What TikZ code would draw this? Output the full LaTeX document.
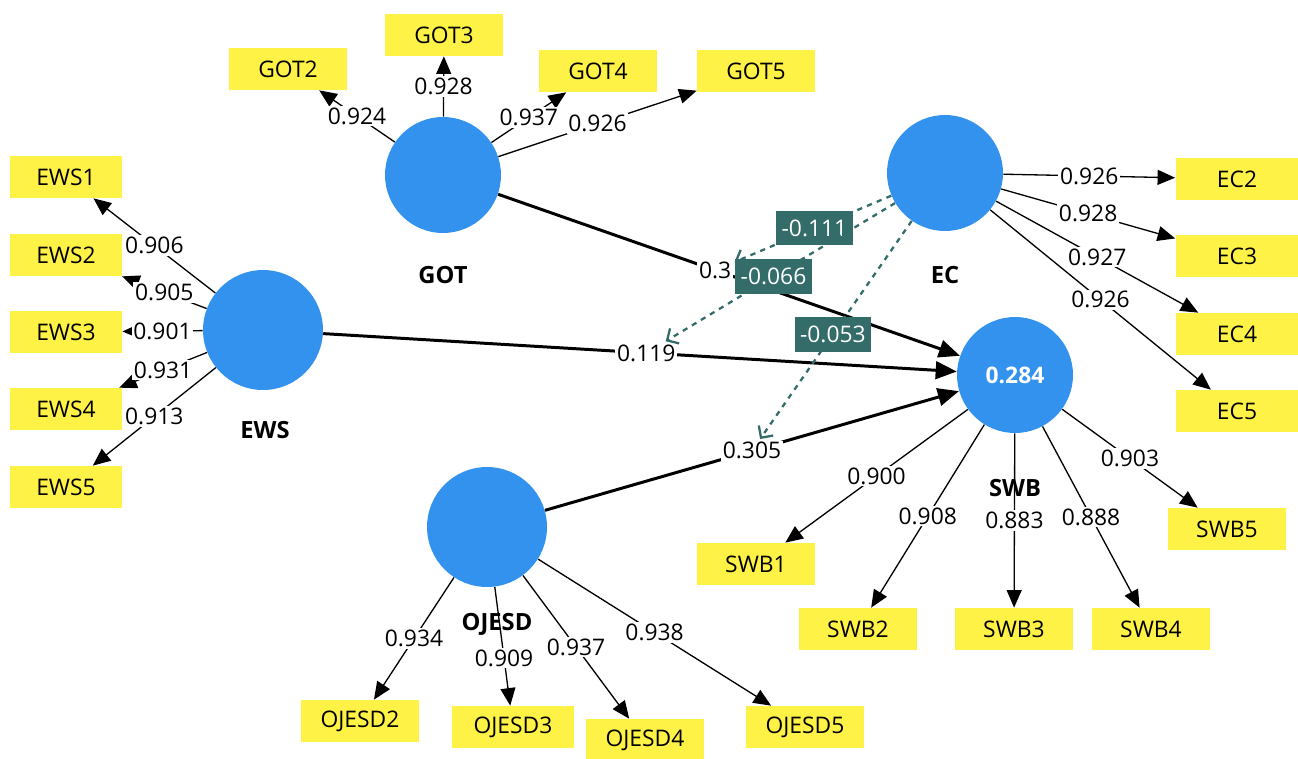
\documentclass[tikz,border=0pt]{standalone}
\usepackage{fontspec}
\setmainfont{Open Sans}
\usetikzlibrary{arrows.meta}
\definecolor{indyellow}{RGB}{255,242,70}
\definecolor{latblue}{RGB}{50,146,238}
\definecolor{modteal}{RGB}{52,108,106}

\begin{document}
\begin{tikzpicture}[x=0.02cm, y=-0.02cm, line join=round, font=\fontsize{13}{15}\selectfont,
        >={Triangle[length=10pt,width=8.5pt]}]
    \tikzset{lat style/.style={circle, fill=latblue, minimum size=2.32cm, inner sep=0pt}}
    \tikzset{ind style/.style={fill=indyellow, minimum width=2.36cm, minimum height=0.84cm, inner sep=0pt}}
    \tikzset{name style/.style={font=\fontsize{13.5}{15}\selectfont\bfseries}}
    \tikzset{load style/.style={fill=white, inner sep=1pt}}
    \tikzset{path style/.style={line width=1.7pt, -{Triangle[length=12pt,width=10pt]}}}
    \tikzset{mod line/.style={modteal, dashed, line width=1.3pt, -{Straight Barb[length=5pt,width=10pt]}}}
    \tikzset{mod style/.style={fill=modteal, text=white, inner xsep=3pt, inner ysep=5pt, solid}}
    \useasboundingbox (0,0) rectangle (1298,758);

    % constructs
    \node[lat style] (got) at (443,175) {};
    \node[lat style] (ec) at (945,173) {};
    \node[lat style, minimum size=2.4cm] (ews) at (263,330) {};
    \node[lat style] (swb) at (1015,375) {\textcolor{white}{\bfseries 0.284}};
    \node[lat style, minimum size=2.4cm] (ojesd) at (487,527) {};
    \node[name style] (gotname) at (443,275) {GOT};
    \node[name style] (ecname) at (945,275) {EC};
    \node[name style] (ewsname) at (265,430) {EWS};

    % indicators
    \node[ind style] (got2) at (288,69) {GOT2};
    \node[ind style] (got3) at (444,35) {GOT3};
    \node[ind style] (got4) at (598,71) {GOT4};
    \node[ind style] (got5) at (756,71) {GOT5};
    \node[ind style, minimum width=2.24cm] (ews1) at (66,177) {EWS1};
    \node[ind style, minimum width=2.24cm] (ews2) at (66,255) {EWS2};
    \node[ind style, minimum width=2.24cm] (ews3) at (66,332) {EWS3};
    \node[ind style, minimum width=2.24cm] (ews4) at (66,409) {EWS4};
    \node[ind style, minimum width=2.24cm] (ews5) at (66,487) {EWS5};
    \node[ind style, minimum width=2.46cm] (ec2) at (1237,179) {EC2};
    \node[ind style, minimum width=2.46cm] (ec3) at (1237,256) {EC3};
    \node[ind style, minimum width=2.46cm] (ec4) at (1237,334) {EC4};
    \node[ind style, minimum width=2.46cm] (ec5) at (1237,411) {EC5};
    \node[ind style] (swb1) at (756,564) {SWB1};
    \node[ind style] (swb2) at (858,629) {SWB2};
    \node[ind style] (swb3) at (1014,629) {SWB3};
    \node[ind style] (swb4) at (1151,629) {SWB4};
    \node[ind style] (swb5) at (1227,529) {SWB5};
    \node[ind style] (ojesd2) at (360,721) {OJESD2};
    \node[ind style, minimum width=2.46cm] (ojesd3) at (513,727) {OJESD3};
    \node[ind style] (ojesd4) at (645,740) {OJESD4};
    \node[ind style] (ojesd5) at (805,727) {OJESD5};

    % loadings
    \foreach \a/\b/\v/\p in {got/got2/0.924/0.5, got/got3/0.928/0.5, got/got4/0.937/0.5, got/got5/0.926/0.5,
            ews/ews1/0.906/0.5, ews/ews2/0.905/0.5, ews/ews3/0.901/0.5, ews/ews4/0.931/0.5, ews/ews5/0.913/0.5,
            ec/ec2/0.926/0.5, ec/ec3/0.928/0.5, ec/ec4/0.927/0.5, ec/ec5/0.926/0.5,
            swb/swb1/0.900/0.5, swb/swb2/0.908/0.5, swb/swb3/0.883/0.5, swb/swb4/0.888/0.5, swb/swb5/0.903/0.5,
            ojesd/ojesd2/0.934/0.5, ojesd/ojesd3/0.909/0.6, ojesd/ojesd4/0.937/0.5, ojesd/ojesd5/0.938/0.5}
        \draw[->, line width=0.75pt] (\a) -- node[load style, pos=\p] {\v} (\b);
    \node[name style] (swbname) at (1015,488) {SWB};
    \node[name style] (ojesdname) at (497,624) {OJESD};

    % inner model
    \draw[path style] (got) -- node[load style, pos=0.47] (pgot) {0.3} (swb);
    \draw[path style] (ews) -- node[load style, pos=0.51] (pews) {0.119} (swb);
    \draw[path style] (ojesd) -- node[load style, pos=0.5] (pojesd) {0.305} (swb);

    % moderating effects
    \draw[mod line] (ec) -- node[mod style, pos=0.49] {-0.111} (pgot);
    \draw[mod line] (ec) -- node[mod style, pos=0.53] {-0.066} (pews);
    \draw[mod line] (ec) -- node[mod style, pos=0.52] {-0.053} (pojesd);
\end{tikzpicture}
\end{document}
